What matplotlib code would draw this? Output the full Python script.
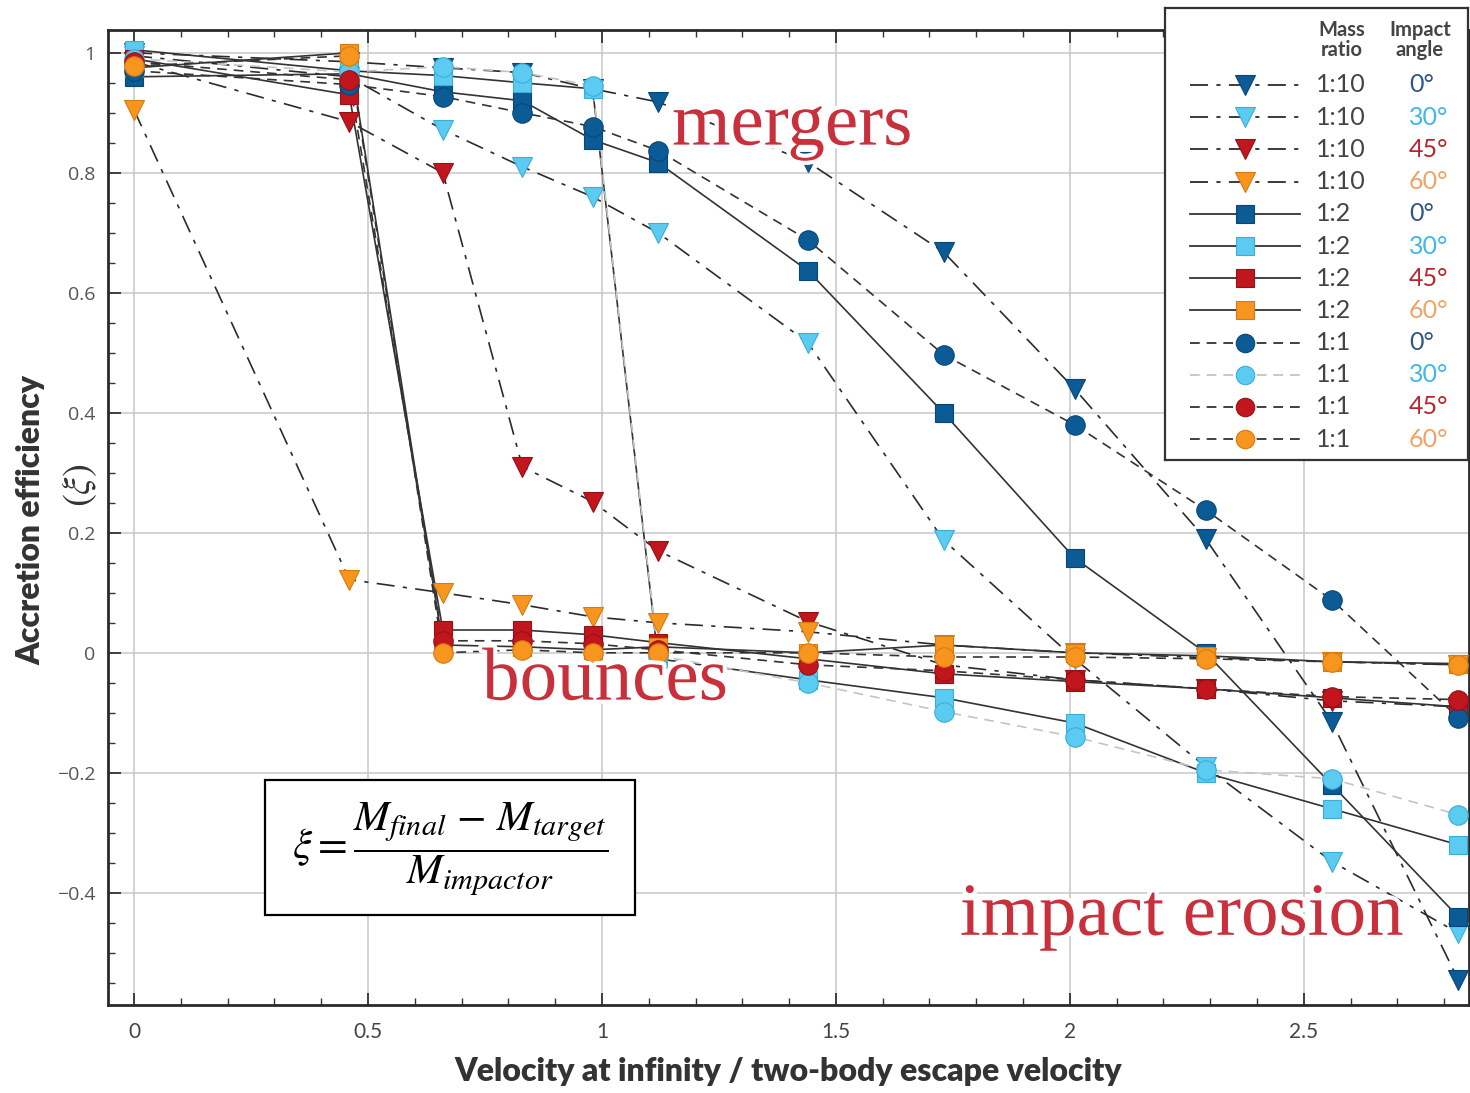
import matplotlib
matplotlib.use("Agg")
import matplotlib.pyplot as plt
import matplotlib.patheffects as pe
from matplotlib.patches import Rectangle
from matplotlib.ticker import MultipleLocator

plt.rcParams['lines.scale_dashes'] = False
plt.rcParams['mathtext.fontset'] = 'stix'

SANS = ['Lato', 'DejaVu Sans']

# Velocity at infinity / two-body escape velocity
velocity = [0.0, 0.46, 0.66, 0.83, 0.98, 1.12, 1.44, 1.73, 2.01, 2.29, 2.56, 2.83]

# Accretion efficiency per run (mass ratio, impact angle)
xi_110_0 = [1.0, 0.985, 0.975, 0.967, 0.94, 0.918, 0.818, 0.668, 0.44, 0.19, -0.115, -0.545]
xi_110_30 = [0.995, 0.96, 0.872, 0.81, 0.76, 0.70, 0.517, 0.188, -0.01, -0.19, -0.348, -0.467]
xi_110_45 = [0.985, 0.885, 0.80, 0.31, 0.252, 0.17, 0.052, -0.02, -0.045, -0.06, -0.08, -0.09]
xi_110_60 = [0.905, 0.122, 0.10, 0.08, 0.06, 0.05, 0.035, 0.013, 0.0, -0.008, -0.015, -0.02]

xi_12_0 = [0.96, 0.965, 0.935, 0.92, 0.855, 0.817, 0.637, 0.40, 0.158, 0.0, -0.22, -0.44]
xi_12_30 = [1.005, 0.97, 0.962, 0.95, 0.94, -0.01, -0.045, -0.075, -0.117, -0.2, -0.26, -0.32]
xi_12_45 = [0.99, 0.93, 0.038, 0.038, 0.03, 0.017, -0.01, -0.035, -0.048, -0.06, -0.075, -0.09]
xi_12_60 = [0.975, 1.0, 0.013, 0.01, 0.005, 0.01, 0.0, 0.013, 0.0, -0.005, -0.015, -0.018]

xi_11_0 = [0.97, 0.947, 0.927, 0.90, 0.877, 0.837, 0.688, 0.497, 0.38, 0.238, 0.088, -0.108]
xi_11_30 = [0.99, 0.968, 0.977, 0.967, 0.945, -0.005, -0.05, -0.098, -0.14, -0.195, -0.21, -0.27]
xi_11_45 = [0.985, 0.955, 0.02, 0.02, 0.015, 0.005, -0.02, -0.03, -0.045, -0.06, -0.073, -0.078]
xi_11_60 = [0.978, 0.995, 0.0, 0.005, 0.0, 0.0, 0.0, -0.007, -0.007, -0.01, -0.015, -0.02]

mass_ratios = ['1:10'] * 4 + ['1:2'] * 4 + ['1:1'] * 4
angle_labels = ['0°', '30°', '45°', '60°'] * 3

# colours per impact angle: marker fill, marker edge, legend text
fill_colors = ['#0b5b97', '#5ccbf2', '#c2161f', '#f7951e']
edge_colors = ['#084775', '#3aaed8', '#961016', '#d77a10']
text_colors = ['#2f5582', '#3fb7e8', '#b8242c', '#eea466']

series = [xi_110_0, xi_110_30, xi_110_45, xi_110_60,
          xi_12_0, xi_12_30, xi_12_45, xi_12_60,
          xi_11_0, xi_11_30, xi_11_45, xi_11_60]

dashdot = (0, (13, 6, 3, 6))
dashed = (0, (7, 5))
styles = []
for i in range(12):
    group, ang = divmod(i, 4)
    if group == 0:
        styles.append(dict(marker='v', ms=15, ls=dashdot, lc='#2b2b2b'))
    elif group == 1:
        styles.append(dict(marker='s', ms=13.5, ls='-', lc='#333333'))
    else:
        lc = '#c4c4c4' if ang == 1 else '#333333'
        styles.append(dict(marker='o', ms=14, ls=dashed, lc=lc))

W, H = 1470, 1093
fig = plt.figure(figsize=(W / 100, H / 100), dpi=100)
ax = fig.add_axes([108 / W, 1 - 1005 / H, (1469 - 108) / W, (1005 - 30) / H])

ax.set_xlim(-0.0556, 2.853)
ax.set_ylim(-0.587, 1.038)

for i, ys in enumerate(series):
    st = styles[i]
    ang = i % 4
    ax.plot(velocity, ys, color=st['lc'], lw=1.2, linestyle=st['ls'], zorder=2)
    ax.plot(velocity, ys, linestyle='none', marker=st['marker'], ms=st['ms'],
            mfc=fill_colors[ang], mec=edge_colors[ang], mew=0.8, zorder=3)

# axes styling
ax.xaxis.set_major_locator(MultipleLocator(0.5))
ax.xaxis.set_minor_locator(MultipleLocator(0.1))
ax.yaxis.set_major_locator(MultipleLocator(0.2))
ax.yaxis.set_minor_locator(MultipleLocator(0.05))
ax.grid(True, which='major', color='#c8c8c8', lw=1.1, zorder=0)
ax.set_axisbelow(True)
ax.tick_params(which='both', direction='in', top=True, right=False, colors='#333333')
ax.tick_params(which='major', length=9, width=1.3)
ax.tick_params(which='minor', length=5, width=1.0)
ax.tick_params(axis='x', which='major', pad=12, labelsize=15, labelcolor='#444444')
ax.tick_params(axis='y', which='major', pad=9, labelsize=14, labelcolor='#555555')
for s in ['left', 'bottom', 'top', 'right']:
    ax.spines[s].set_color('#2a2a2a')
    ax.spines[s].set_linewidth(2.0)

ax.set_xticks([0, 0.5, 1, 1.5, 2, 2.5])
ax.set_xticklabels(['0', '0.5', '1', '1.5', '2', '2.5'], family=SANS)
ax.set_yticks([-0.4, -0.2, 0, 0.2, 0.4, 0.6, 0.8, 1])
ax.set_yticklabels(['\u22120.4', '\u22120.2', '0', '0.2', '0.4', '0.6', '0.8', '1'],
                   family=['Open Sans', 'DejaVu Sans'])

ax.set_xlabel('Velocity at infinity / two-body escape velocity', fontsize=23,
              fontweight='heavy', color='#333333', labelpad=11, family=SANS)
fig.text(31 / W, 1 - 520 / H, 'Accretion efficiency', rotation=90, fontsize=23,
         fontweight='heavy', color='#333333', ha='center', va='center', family=SANS)
fig.text(80 / W, 1 - 485 / H, r'$(\xi)$', rotation=90, fontsize=28,
         color='#333333', ha='center', va='center')

# regime labels
halo = [pe.withStroke(linewidth=6, foreground='white')]
label_kw = dict(fontsize=54, color='#c8303c', family='Liberation Serif',
                path_effects=halo, zorder=5)
ax.text(1.15, 0.847, 'mergers', ha='left', va='baseline', **label_kw)
ax.text(0.744, -0.078, 'bounces', ha='left', va='baseline', **label_kw)
ax.text(1.765, -0.47, 'impact erosion', ha='left', va='baseline', **label_kw)

# definition box
fig.patches.append(Rectangle((265 / W, 1 - 915 / H), 370 / W, 135 / H,
                             transform=fig.transFigure, facecolor='white',
                             edgecolor='black', lw=1.6, zorder=6))
fig.text(450 / W, 1 - 849 / H,
         r'$\xi = \dfrac{M_{\mathit{final}}\ \mathrm{-}\ M_{\mathit{target}}}{M_{\mathit{impactor}}}$',
         fontsize=31, ha='center', va='center', color='black', zorder=7)

# legend panel
lax = fig.add_axes([1165 / W, 1 - 460 / H, 303 / W, 452 / H])
lax.set_xlim(1165, 1468)
lax.set_ylim(460, 8)
lax.set_xticks([])
lax.set_yticks([])
for s in lax.spines.values():
    s.set_color('#333333')
    s.set_linewidth(1.6)
hdr = dict(fontsize=14.5, fontweight='bold', color='#444444', ha='center', va='center',
           family=SANS, linespacing=0.95)
lax.text(1342, 40, 'Mass\nratio', **hdr)
lax.text(1420, 40, 'Impact\nangle', **hdr)
for i in range(12):
    st = styles[i]
    ang = i % 4
    yrow = 85 + 32.2 * i
    lax.plot([1190, 1300], [yrow, yrow], color=st['lc'], lw=1.3, linestyle=st['ls'])
    lax.plot([1245], [yrow], marker=st['marker'], ms=st['ms'] * 0.95, linestyle='none',
             mfc=fill_colors[ang], mec=edge_colors[ang], mew=0.8)
    lax.text(1316, yrow, mass_ratios[i], fontsize=18, color='#444444', ha='left',
             va='center', family=SANS)
    lax.text(1409, yrow, angle_labels[i], fontsize=18, color=text_colors[ang], ha='left',
             va='center', family=SANS)

fig.savefig('out.png', dpi=100)
